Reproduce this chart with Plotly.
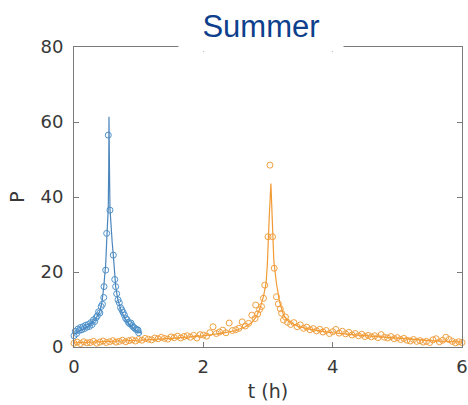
import plotly.graph_objects as go

# ---- data ----
BLUE_FIT_T = [0.00, 0.10, 0.20, 0.30, 0.35, 0.40, 0.43, 0.46, 0.48, 0.49, 0.51, 0.53, 0.537, 0.541,
              0.547, 0.556, 0.57, 0.59, 0.608, 0.625, 0.645, 0.68, 0.72, 0.76, 0.80, 0.86, 0.92, 1.00, 1.05]
BLUE_FIT_P = [3.5, 4.3, 5.3, 6.8, 7.9, 9.6, 11.6, 16.0, 19.5, 22.0, 30.0, 37.0, 48.0, 61.4,
              50.0, 37.0, 32.0, 28.0, 24.5, 20.0, 16.0, 12.5, 10.2, 8.6, 7.3, 5.9, 4.9, 4.0, 3.6]

BLUE_T = [0.00, 0.02, 0.04, 0.06, 0.08, 0.10, 0.12, 0.14, 0.16, 0.18, 0.20, 0.22, 0.24, 0.26, 0.28,
          0.30, 0.32, 0.34, 0.36, 0.38, 0.40, 0.42, 0.44, 0.46, 0.464, 0.49, 0.505, 0.53, 0.556,
          0.608, 0.63, 0.644, 0.66, 0.68, 0.70, 0.72, 0.74, 0.76, 0.78, 0.80, 0.82, 0.84, 0.86,
          0.88, 0.90, 0.92, 0.94, 0.96, 0.98, 0.99, 1.00]
BLUE_P = [3.0, 4.2, 3.6, 4.8, 4.4, 5.2, 4.6, 5.4, 4.9, 5.8, 5.3, 6.0, 5.5, 6.5, 6.0,
          7.2, 6.8, 7.8, 8.3, 9.4, 9.1, 10.8, 11.4, 13.2, 16.1, 20.5, 30.3, 56.5, 36.5,
          24.5, 18.0, 16.1, 14.2, 12.6, 11.8, 10.5, 9.9, 9.2, 8.5, 7.6, 7.3, 6.6, 6.2,
          6.4, 5.7, 5.3, 5.0, 4.7, 4.6, 4.5, 3.8]

ORANGE_FIT_T = [0.0, 0.5, 1.0, 1.5, 2.0, 2.3, 2.5, 2.65, 2.75, 2.82, 2.88, 2.93, 2.97, 2.99, 3.00,
                3.02, 3.045, 3.06, 3.07, 3.09, 3.13, 3.18, 3.24, 3.32, 3.45, 3.6, 3.8, 4.0, 4.3,
                4.6, 5.0, 5.5, 6.0]
ORANGE_FIT_P = [1.1, 1.4, 1.8, 2.3, 3.0, 3.7, 4.4, 5.4, 6.5, 8.1, 10.5, 13.5, 17.0, 22.0, 27.0,
                35.0, 43.6, 36.0, 29.5, 23.0, 17.0, 12.0, 8.5, 6.8, 5.6, 4.9, 4.3, 3.8, 3.3,
                2.9, 2.3, 1.7, 1.3]

ORANGE_T = [0.00, 0.05, 0.10, 0.15, 0.20, 0.25, 0.30, 0.35, 0.40, 0.45,
            0.50, 0.55, 0.60, 0.65, 0.70, 0.75, 0.80, 0.85, 0.90, 0.95,
            1.00, 1.05, 1.10, 1.15, 1.20, 1.25, 1.30, 1.35, 1.40, 1.45,
            1.50, 1.55, 1.60, 1.65, 1.70, 1.75, 1.80, 1.85, 1.90, 1.95,
            2.00, 2.05, 2.10, 2.15, 2.20, 2.25, 2.30, 2.35, 2.40, 2.45,
            2.50, 2.55, 2.60, 2.65, 2.70, 2.75,
            2.80, 2.81, 2.84, 2.87, 2.90, 2.93, 2.95, 3.00, 3.03, 3.07, 3.096,
            3.13, 3.16, 3.19, 3.21, 3.24, 3.27, 3.30,
            3.35, 3.40, 3.45, 3.50, 3.55, 3.60, 3.65, 3.70, 3.75, 3.80,
            3.85, 3.90, 3.95, 4.00, 4.05, 4.10, 4.15, 4.20, 4.25, 4.30,
            4.35, 4.40, 4.45, 4.50, 4.55, 4.60, 4.65, 4.70, 4.75, 4.80,
            4.85, 4.90, 4.95, 5.00, 5.05, 5.10, 5.15, 5.20, 5.25, 5.30,
            5.35, 5.40, 5.45, 5.50, 5.55, 5.60, 5.65, 5.70, 5.75, 5.80,
            5.85, 5.90, 5.95, 6.00]
ORANGE_P = [1.0, 1.3, 0.9, 1.4, 1.1, 1.2, 1.5, 1.0, 1.3, 1.6,
            1.2, 1.4, 1.7, 1.3, 1.5, 1.8, 1.4, 1.7, 1.9, 1.6,
            2.0, 1.8, 2.3, 2.1, 1.9, 2.4, 2.2, 2.6, 2.3, 2.1,
            2.7, 2.5, 2.9, 2.4, 2.8, 3.0, 2.6, 3.1, 2.4, 3.3,
            3.2, 2.9, 3.8, 5.4, 3.6, 4.0, 4.5, 3.8, 6.4, 4.4,
            4.6, 5.0, 6.7, 5.6, 6.3, 8.5,
            7.6, 11.2, 8.8, 10.0, 10.8, 13.0, 16.5, 29.4, 48.5, 29.4, 21.0,
            13.4, 11.5, 10.2, 9.0, 7.2, 8.0, 6.6,
            6.0, 6.5, 5.4, 5.9, 5.0, 5.3, 4.6, 4.9, 4.3, 4.7,
            4.0, 4.4, 3.6, 4.1, 4.7, 3.7, 4.2, 3.5, 3.9, 3.2,
            3.6, 3.0, 3.4, 2.8, 3.1, 2.7, 3.0, 2.5, 3.3, 2.6,
            2.4, 2.8, 2.2, 2.5, 2.0, 2.3, 1.8, 1.6, 2.0, 1.5,
            1.7, 1.3, 1.5, 1.2, 1.9, 2.2, 1.4, 1.8, 2.6, 2.0,
            1.5, 1.1, 1.4, 1.2]

X_TICKS = [0, 2, 4, 6]
Y_TICKS = [0, 20, 40, 60, 80]

BLUE_LINE = "#4a86bd"
BLUE_MARK = "#4f93cc"
ORANGE_LINE = "#f29a33"
ORANGE_MARK = "#ef9f3f"

fig = go.Figure()
fig.add_trace(go.Scatter(x=BLUE_T, y=BLUE_P, mode="markers",
                         marker=dict(symbol="circle-open", size=6, color=BLUE_MARK, line=dict(width=1)),
                         showlegend=False, cliponaxis=False))
fig.add_trace(go.Scatter(x=BLUE_FIT_T, y=BLUE_FIT_P, mode="lines",
                         line=dict(color=BLUE_LINE, width=1.2), showlegend=False))
fig.add_trace(go.Scatter(x=ORANGE_T, y=ORANGE_P, mode="markers",
                         marker=dict(symbol="circle-open", size=6, color=ORANGE_MARK, line=dict(width=1)),
                         showlegend=False, cliponaxis=False))
fig.add_trace(go.Scatter(x=ORANGE_FIT_T, y=ORANGE_FIT_P, mode="lines",
                         line=dict(color=ORANGE_LINE, width=1.2), showlegend=False))

axis_common = dict(showgrid=False, zeroline=False, showline=True, mirror="ticks",
                   linecolor="#7a7a7a", linewidth=1, ticks="inside", ticklen=5,
                   tickcolor="#7a7a7a", automargin=False,
                   tickfont=dict(family="DejaVu Sans", size=18, color="#383838"))

fig.update_xaxes(range=[0, 6], tickvals=X_TICKS, ticktext=[str(v) for v in X_TICKS],
                 ticklabelstandoff=3,
                 title=dict(text="t (h)", font=dict(family="DejaVu Sans", size=19, color="#383838"),
                            standoff=9),
                 **axis_common)
fig.update_yaxes(range=[0, 80], tickvals=Y_TICKS, ticktext=[str(v) for v in Y_TICKS],
                 ticklabelstandoff=6,
                 title=dict(text="P", font=dict(family="DejaVu Sans", size=19, color="#383838"),
                            standoff=10),
                 **axis_common)

fig.add_annotation(text="Summer", xref="paper", yref="paper",
                   x=(261 - 74) / 388, y=347 / 300, xanchor="center", yanchor="top",
                   showarrow=False, width=162, height=48, bgcolor="white", valign="middle",
                   font=dict(family="Liberation Sans", size=31, color="#0d3f8c"))

fig.update_layout(width=468, height=405, margin=dict(l=74, r=6, t=47, b=58),
                  paper_bgcolor="white", plot_bgcolor="white")

fig.write_html("out.html")
